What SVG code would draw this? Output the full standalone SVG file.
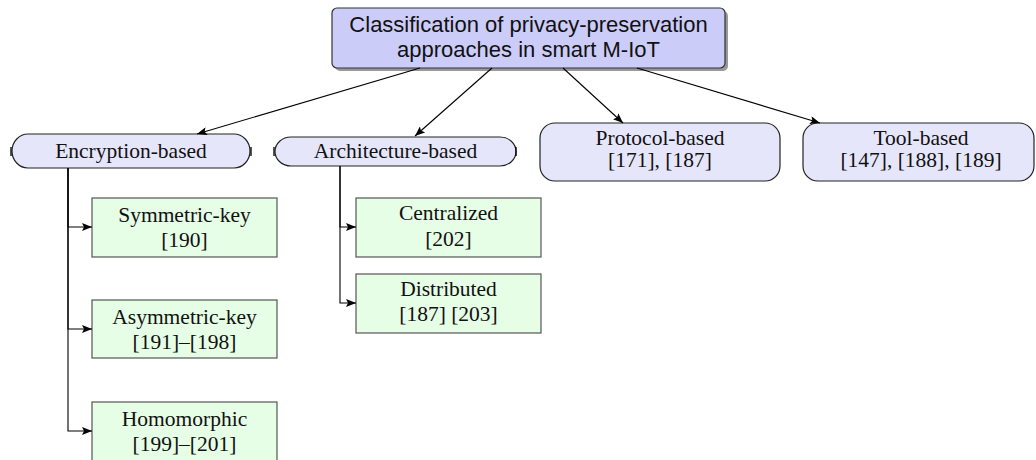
<svg xmlns="http://www.w3.org/2000/svg" width="1036" height="460" viewBox="0 0 1036 460">
<defs>
<marker id="ah" viewBox="0 0 10 8" refX="10" refY="4" markerWidth="10" markerHeight="8" markerUnits="userSpaceOnUse" orient="auto">
<path d="M0,0 L10,4 L0,8 L2,4 Z" fill="#000"/>
</marker>
<style>
.root{fill:#ccccf8;stroke:#333;stroke-width:1.2}
.shadow{fill:#999;stroke:none}
.lvl{fill:#e6e6fb;stroke:#222;stroke-width:1.2}
.leaf{fill:#e6fde6;stroke:#555;stroke-width:1.2}
.tick{stroke:#000;stroke-width:1.3;fill:none}
.sans{font-family:"Liberation Sans",Arial,sans-serif;font-size:22px;fill:#111;text-anchor:middle}
.serif{font-family:"Liberation Serif","Times New Roman",serif;font-size:21.5px;fill:#111;text-anchor:middle}
.conn{stroke:#000;stroke-width:1.1;fill:none;marker-end:url(#ah)}
</style>
</defs>
<rect width="1036" height="460" fill="#fff"/>

<g id="root">
<rect class="shadow" x="335" y="11" width="393" height="60" rx="5"/>
<rect class="root" x="332" y="8" width="393" height="60" rx="5"/>
<text class="sans" x="528.5" y="32">Classification of privacy-preservation</text>
<text class="sans" x="528.5" y="57">approaches in smart M-IoT</text>
</g>

<g id="encryption">
<path class="lvl" d="M28,134 H234 A16,17 0 0 1 234,168 H28 A16,17 0 0 1 28,134 Z"/>
<path class="tick" d="M11,147 V156 M251,147 V156"/>
<text class="serif" x="131" y="158">Encryption-based</text>
</g>

<g id="architecture">
<path class="lvl" d="M291,137 H500 A16,14.5 0 0 1 500,166 H291 A16,14.5 0 0 1 291,137 Z"/>
<path class="tick" d="M274,147 V156 M516,147 V156"/>
<text class="serif" x="395.5" y="158">Architecture-based</text>
</g>

<g id="protocol">
<rect class="lvl" x="540" y="123" width="240" height="58" rx="15"/>
<text class="serif" x="660" y="145">Protocol-based</text>
<text class="serif" x="660" y="167">[171], [187]</text>
</g>

<g id="tool">
<rect class="lvl" x="803" y="123" width="231" height="58" rx="15"/>
<text class="serif" x="921" y="145">Tool-based</text>
<text class="serif" x="921" y="167">[147], [188], [189]</text>
</g>

<g id="symmetric">
<rect class="leaf" x="92" y="198" width="185" height="59"/>
<text class="serif" x="184.5" y="222">Symmetric-key</text>
<text class="serif" x="184.5" y="247">[190]</text>
</g>

<g id="asymmetric">
<rect class="leaf" x="92" y="300" width="185" height="58"/>
<text class="serif" x="184.5" y="324">Asymmetric-key</text>
<text class="serif" x="184.5" y="349">[191]–[198]</text>
</g>

<g id="homomorphic">
<rect class="leaf" x="92" y="402" width="185" height="62"/>
<text class="serif" x="184.5" y="426">Homomorphic</text>
<text class="serif" x="184.5" y="451">[199]–[201]</text>
</g>

<g id="centralized">
<rect class="leaf" x="356" y="198" width="185" height="59"/>
<text class="serif" x="448.5" y="220">Centralized</text>
<text class="serif" x="448.5" y="246">[202]</text>
</g>

<g id="distributed">
<rect class="leaf" x="356" y="274" width="185" height="59"/>
<text class="serif" x="448.5" y="296">Distributed</text>
<text class="serif" x="448.5" y="321">[187] [203]</text>
</g>

<g id="connectors">
<path class="conn" d="M420,68 L197,134"/>
<path class="conn" d="M492,68 L415,136"/>
<path class="conn" d="M563,68 L623,123"/>
<path class="conn" d="M637,68 L820,123"/>
<path class="conn" d="M68,168 V227 H92"/>
<path class="conn" d="M68,168 V329 H92"/>
<path class="conn" d="M68,168 V431 H92"/>
<path class="conn" d="M340,166 V227 H356"/>
<path class="conn" d="M340,166 V303 H356"/>
</g>
</svg>
